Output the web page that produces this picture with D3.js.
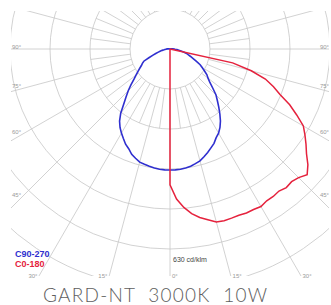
<!DOCTYPE html>
<html>
<head>
<meta charset="utf-8">
<script src="https://cdn.jsdelivr.net/npm/d3@7/dist/d3.min.js"></script>
<style>
  html, body { margin: 0; padding: 0; background: #fff; }
  svg { display: block; }
</style>
</head>
<body>
<svg id="chart" width="331" height="305"></svg>
<script>
// Gamma angles (deg from nadir) and intensities in cd/klm.
const angles = [0, 2.5, 5, 7.5, 10, 12.5, 15, 17.5, 20, 22.5, 25, 27.5, 30, 32.5, 35, 37.5,
  40, 42.5, 45, 47.5, 50, 52.5, 55, 57.5, 60, 62.5, 65, 67.5, 70, 72.5, 75, 77.5,
  80, 82.5, 85, 87.5, 90, 92.5, 95, 97.5, 100];

const c0 = [428, 473, 501, 523, 539, 551, 564, 567, 567, 567, 570, 570, 573, 567, 567, 564,
  570, 567, 573, 586, 567, 542, 523, 504, 485, 450, 416, 375, 347, 315, 265, 202,
  0, 0, 0, 0, 0, 0, 0, 0, 0];
const c180 = [428, 0, 0, 0, 0, 0, 0, 0, 0, 0, 0, 0, 0, 0, 0, 0,
  0, 0, 0, 0, 0, 0, 0, 0, 0, 0, 0, 0, 0, 0, 0, 0,
  0, 0, 0, 0, 0, 0, 0, 0, 0];
const c90 = [381, 381, 380, 378, 375, 370, 365, 356, 347, 337, 328, 315, 306, 293, 277, 258,
  239, 221, 205, 183, 164, 151, 142, 129, 117, 107, 91, 79, 69, 60, 54, 44,
  35, 28, 22, 16, 13, 9, 6, 3, 0];
const c270 = [381, 381, 380, 378, 375, 372, 369, 361, 353, 340, 331, 318, 306, 293, 277, 255,
  227, 205, 186, 167, 148, 135, 123, 113, 104, 98, 91, 72, 57, 47, 38, 32,
  25, 19, 16, 13, 9, 9, 6, 3, 0];

const ringValues = [126, 252, 378, 504, 630, 756];
const scaleMax = 630;
const scaleLabel = "630 cd/klm";
const sideTicks = [90, 75, 60, 45];
const bottomTicks = [-30, -15, 0, 15, 30];
const legend = [
  { name: "C90-270", color: "#2f2fcf" },
  { name: "C0-180", color: "#e5223d" },
];
const title = "GARD-NT\u00a0\u00a03000K\u00a0\u00a010W";

const svg = d3.select("#chart");
const cx = 170, cy = 49;
const box = { x: 11, y: 11, w: 318, h: 265 };
const rad = Math.PI / 180;

const r = d3.scaleLinear().domain([0, scaleMax]).range([0, 200]);

svg.append("defs").append("clipPath").attr("id", "clip")
  .append("rect").attr("x", box.x).attr("y", box.y).attr("width", box.w).attr("height", box.h);

const plot = svg.append("g").attr("clip-path", "url(#clip)")
  .append("g").attr("transform", `translate(${cx},${cy})`);

const grid = plot.append("g").attr("stroke", "#c6c6c6").attr("stroke-width", 0.8).attr("fill", "none");

grid.selectAll("circle").data(ringValues).join("circle").attr("r", (d) => r(d));

// major spokes every 15deg from the inner ring outwards, minor ones only in the first band
const spoke = (deg, r0, r1) => {
  const s = Math.sin(deg * rad), c = Math.cos(deg * rad);
  return { x1: s * r0, y1: c * r0, x2: s * r1, y2: c * r1 };
};
const spokes = d3.range(0, 360, 15).map((d) => spoke(d, r(ringValues[0]), 420))
  .concat(d3.range(7.5, 360, 15).map((d) => spoke(d, r(ringValues[0]), r(ringValues[1]))));
grid.selectAll("line").data(spokes).join("line")
  .attr("x1", (d) => d.x1).attr("y1", (d) => d.y1)
  .attr("x2", (d) => d.x2).attr("y2", (d) => d.y2);

// curves: left half drawn from 100deg back to nadir, then right half out again
const right = (vals) => angles.map((a, i) => ({ a: Math.PI - a * rad, v: vals[i] }));
const left = (vals) => angles.map((a, i) => ({ a: Math.PI + a * rad, v: vals[i] })).reverse();
const line = d3.lineRadial().angle((d) => d.a).radius((d) => r(d.v));

plot.append("path").datum(left(c270).concat(right(c90)))
  .attr("d", line).attr("fill", "none").attr("stroke", legend[0].color).attr("stroke-width", 1.6);
plot.append("path").datum(left(c180).concat(right(c0)))
  .attr("d", line).attr("fill", "none").attr("stroke", legend[1].color).attr("stroke-width", 1.5);

// angle labels
const lab = svg.append("g").attr("font-family", "Liberation Sans, Arial, sans-serif")
  .attr("font-size", 6).attr("fill", "#9a9a9a");
const edgeDx = 148;
sideTicks.forEach((t) => {
  const y = cy + edgeDx / Math.tan(t * rad) - 0.5;
  lab.append("text").attr("x", box.x + 1).attr("y", y).text(t + "°");
  lab.append("text").attr("x", box.x + box.w).attr("y", y).attr("text-anchor", "end").text(t + "°");
});
bottomTicks.forEach((t) => {
  const dx = 226 * Math.tan(Math.abs(t) * rad);
  const neg = t < 0;
  lab.append("text")
    .attr("x", neg ? cx - dx - 2 : cx + dx + 2)
    .attr("y", 278)
    .attr("text-anchor", neg ? "end" : "start")
    .text(Math.abs(t) + "°");
});

svg.append("text").attr("x", 173).attr("y", 262)
  .attr("font-family", "Liberation Sans, Arial, sans-serif").attr("font-size", 7).attr("fill", "#444")
  .text(scaleLabel);

svg.append("g").selectAll("text").data(legend).join("text")
  .attr("x", 15).attr("y", (d, i) => 257 + i * 9.5)
  .attr("font-family", "Liberation Sans, Arial, sans-serif").attr("font-size", 9)
  .attr("font-weight", "bold").attr("fill", (d) => d.color)
  .text((d) => d.name);

svg.append("text").attr("x", 43).attr("y", 302)
  .attr("font-family", "Lato, 'Open Sans', sans-serif").attr("font-weight", 300)
  .attr("font-size", 19).attr("fill", "#5e5e5e")
  .attr("textLength", 224).attr("lengthAdjust", "spacing")
  .text(title);
</script>
</body>
</html>
